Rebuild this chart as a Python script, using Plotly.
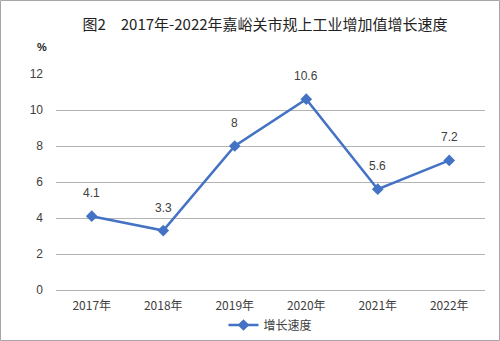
import plotly.graph_objects as go

years = ["2017年", "2018年", "2019年", "2020年", "2021年", "2022年"]
growth = [4.1, 3.3, 8, 10.6, 5.6, 7.2]
series_name = "增长速度"
title_text = "图2　2017年-2022年嘉峪关市规上工业增加值增长速度"

W, H = 500, 341
L, R, T, B = 56, 15, 74, 51
pw, ph = W - L - R, H - T - B

fig = go.Figure()
fig.add_trace(go.Scatter(
    x=years, y=growth, name=series_name,
    mode="lines+markers",
    line=dict(color="#4472C4", width=2.5),
    marker=dict(symbol="diamond", size=9, color="#4472C4"),
    cliponaxis=False,
))

annotations = [dict(x=yr, y=v, text=f"{v:g}", showarrow=False, yshift=23,
                    xanchor="center", yanchor="middle",
                    font=dict(family="Liberation Sans, Arial", size=12, color="#404040"))
               for yr, v in zip(years, growth)]
annotations.append(dict(text="<b>%</b>", x=(42 - L) / pw, y=1 + (74 - 47) / ph, xref="paper", yref="paper",
                        showarrow=False, xanchor="center", yanchor="middle",
                        font=dict(family="Liberation Sans, Arial", size=11, color="#222222")))

fig.update_layout(
    width=W, height=H,
    margin=dict(l=L, r=R, t=T, b=B, autoexpand=False),
    paper_bgcolor="white", plot_bgcolor="white",
    font=dict(family="Noto Sans CJK SC, Liberation Sans", size=11, color="#404040"),
    title=dict(text=title_text, x=265 / W, xanchor="center", y=1 - 25 / H, yanchor="middle",
               font=dict(family="Noto Sans CJK SC", size=15, color="#222222")),
    xaxis=dict(range=[-0.5, len(years) - 0.5], showgrid=False, showline=False, zeroline=False,
               ticks="", ticklabelstandoff=7,
               tickfont=dict(size=12, color="#404040")),
    yaxis=dict(range=[0, 12], dtick=2, showgrid=True, gridcolor="#b3b3b3", gridwidth=1,
               zeroline=True, zerolinecolor="#b3b3b3", zerolinewidth=1, showline=False,
               ticks="", ticklabelstandoff=12,
               tickfont=dict(family="Liberation Sans, Arial", size=12, color="#404040")),
    showlegend=True,
    legend=dict(orientation="h", x=0.5, xanchor="center", y=-(325 - 290) / ph, yanchor="middle",
                font=dict(size=12, color="#404040"), bgcolor="rgba(0,0,0,0)"),
    annotations=annotations,
    shapes=[dict(type="rect", xref="paper", yref="paper",
                 x0=(0.5 - L) / pw, x1=(W - 0.5 - L) / pw,
                 y0=-(H - 0.5 - T - ph) / ph, y1=1 + (T - 0.5) / ph,
                 line=dict(color="#a6a6a6", width=1), layer="below")],
)

fig.write_html("out.html")
